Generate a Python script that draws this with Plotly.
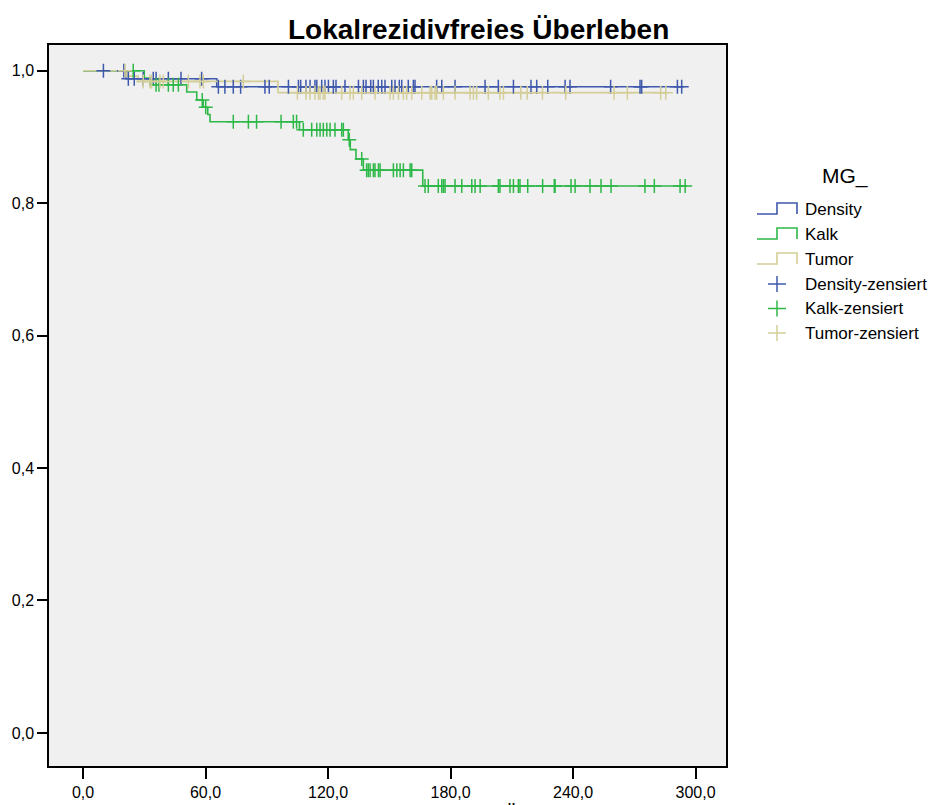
import plotly.graph_objects as go

# Kaplan-Meier data per mammography group (time in months)
density_event_times = [21, 65.5]
density_event_surv = [0.988, 0.976]
density_censored = [10, 20, 22.2, 25.1, 29.5, 34.4, 35.8, 41.8, 48, 58.1, 66.3, 69.5, 73.6,
                    77.2, 89.1, 91.2, 100.6, 105.5, 106.6, 109.2, 111.2, 113.6, 114.5, 116.9,
                    118.5, 120.2, 122.6, 123.9, 128.3, 134.9, 137.3, 138.6, 140.9, 142.2,
                    144.6, 146.3, 147.9, 151.2, 152.8, 154.9, 156.1, 159.3, 161.8, 162.6,
                    173.2, 175.7, 182.2, 196.9, 203.4, 210.8, 219.4, 222.2, 227.6, 236.1,
                    238.5, 258.4, 272.8, 273.6, 291.1, 293.2]

kalk_event_times = [30, 33, 50.8, 55.7, 58.9, 61.1, 62.2, 106, 129.9, 130.9, 133.7, 137.3, 166.4]
kalk_event_surv = [0.989, 0.979, 0.968, 0.956, 0.945, 0.934, 0.923, 0.911, 0.896, 0.881,
                   0.867, 0.850, 0.826]
kalk_censored = [24.6, 35.8, 37.2, 41.8, 44.2, 46.7, 58.4, 60.1, 73.6, 81, 85, 97, 103, 104.6,
                 107.9, 112, 114.5, 116.1, 117.7, 119.4, 121.0, 123.4, 126.7, 127.5, 130.4,
                 136.5, 138.9, 139.7, 140.6, 142.2, 143.0, 144.7, 145.5, 152.0, 153.7, 155.3,
                 156.9, 160.2, 161.0, 167.5, 169.1, 174.0, 175.7, 176.5, 177.3, 182.2, 185.5,
                 190.4, 192.0, 194.5, 203.4, 204.2, 209.1, 210.8, 213.2, 214.0, 217.8, 225.1,
                 230.8, 231.2, 239.0, 241.0, 248.3, 253.7, 258.6, 275.2, 279.8, 292.4, 294.9]

tumor_event_times = [21.5, 27, 95.5]
tumor_event_surv = [0.992, 0.984, 0.967]
tumor_censored = [20.6, 29.5, 32.8, 33.6, 37.7, 39.3, 51.6, 57.3, 58.9, 78.5, 105, 109.2,
                  111.2, 113.6, 115.3, 116.1, 117.7, 118.5, 126.7, 130.8, 132.4, 136.5, 143.0,
                  150.4, 152.0, 154.5, 156.9, 158.5, 161.0, 165.9, 170.0, 170.8, 172.4, 173.2,
                  176.5, 182.2, 189.6, 191.2, 192.8, 198.5, 204.2, 205.9, 214.4, 217.6, 225.0,
                  236.4, 260.1, 266.6, 282.9, 285.4]

group_names = ["Density", "Kalk", "Tumor"]
group_colors = ["#3E58AC", "#2EB848", "#D3CE97"]

x_tickvals = [0, 60, 120, 180, 240, 300]
x_ticktext = ["0,0", "60,0", "120,0", "180,0", "240,0", "300,0"]
y_tickvals = [0, 0.2, 0.4, 0.6, 0.8, 1.0]
y_ticktext = ["0,0", "0,2", "0,4", "0,6", "0,8", "1,0"]

title_text = "Lokalrezidivfreies Überleben"
legend_title = "MG_"

FONT = "Arial, Liberation Sans, sans-serif"
W, H = 934, 805
ML, MR, MT, MB = 49, 208, 45, 39
PW, PH = W - ML - MR, H - MT - MB


def surv_at(t, times, surv):
    s = 1.0
    for et, es in zip(times, surv):
        if et <= t:
            s = es
    return s


def px_to_paper(px, py):
    return (px - ML) / PW, (H - MB - py) / PH


groups = [
    (density_event_times, density_event_surv, density_censored),
    (kalk_event_times, kalk_event_surv, kalk_censored),
    (tumor_event_times, tumor_event_surv, tumor_censored),
]

fig = go.Figure()

# step curves
for (times, surv, cens), name, color in zip(groups, group_names, group_colors):
    end_t = max(max(times), max(cens))
    xs = [0] + list(times) + [end_t]
    ys = [1.0] + list(surv) + [surv[-1]]
    fig.add_trace(go.Scatter(x=xs, y=ys, mode="lines", line=dict(color=color, width=1.6, shape="hv"),
                             name=name, hoverinfo="skip"))

# censored marks
for (times, surv, cens), name, color in zip(groups, group_names, group_colors):
    fig.add_trace(go.Scatter(
        x=cens, y=[surv_at(t, times, surv) for t in cens], mode="markers",
        marker=dict(symbol="cross-thin", size=10, line=dict(color=color, width=1.5)),
        name=name + "-zensiert", hoverinfo="skip"))

shapes = []
annotations = []

# legend drawn beside the plot
lgx, lgy = px_to_paper(845, 176)
annotations.append(dict(x=lgx, y=lgy, xref="paper", yref="paper", text=legend_title,
                        showarrow=False, xanchor="center", yanchor="middle",
                        font=dict(family=FONT, size=21, color="black")))
row_y = [209, 234, 259, 284, 308.5, 333]
for i, (name, color) in enumerate(zip(group_names, group_colors)):
    cy = row_y[i]
    pts = [(757, cy + 5), (777, cy + 5), (777, cy - 6), (797, cy - 6), (797, cy + 5)]
    path = ""
    for j, (a, b) in enumerate(pts):
        xp, yp = px_to_paper(a, b)
        path += ("M" if j == 0 else "L") + f"{xp:.5f},{yp:.5f} "
    shapes.append(dict(type="path", path=path, xref="paper", yref="paper",
                       line=dict(color=color, width=1.6)))
    tx, ty = px_to_paper(803, cy)
    annotations.append(dict(x=tx, y=ty, xref="paper", yref="paper", text=name, showarrow=False,
                            xanchor="left", yanchor="middle",
                            font=dict(family=FONT, size=17, color="black")))
for i, (name, color) in enumerate(zip(group_names, group_colors)):
    cy = row_y[3 + i]
    ax0, ay0 = px_to_paper(768, cy)
    ax1, ay1 = px_to_paper(786, cy)
    shapes.append(dict(type="line", x0=ax0, y0=ay0, x1=ax1, y1=ay1, xref="paper", yref="paper",
                       line=dict(color=color, width=1.5)))
    bx0, by0 = px_to_paper(777, cy - 8)
    bx1, by1 = px_to_paper(777, cy + 8)
    shapes.append(dict(type="line", x0=bx0, y0=by0, x1=bx1, y1=by1, xref="paper", yref="paper",
                       line=dict(color=color, width=1.5)))
    tx, ty = px_to_paper(803, cy)
    annotations.append(dict(x=tx, y=ty, xref="paper", yref="paper", text=name + "-zensiert",
                            showarrow=False, xanchor="left", yanchor="middle",
                            font=dict(family=FONT, size=17, color="black")))

# chart title
ttx, tty = px_to_paper(478, 29)
annotations.append(dict(x=ttx, y=tty, xref="paper", yref="paper", text="<b>" + title_text + "</b>",
                        showarrow=False, xanchor="center", yanchor="middle",
                        font=dict(family=FONT, size=28, color="black")))

# x axis title (runs past the bottom edge of the page)
atx, aty = px_to_paper(503, 800.5)
annotations.append(dict(x=atx, y=aty, xref="paper", yref="paper", text="<b>Überleben</b>",
                        showarrow=False, xanchor="left", yanchor="top",
                        font=dict(family=FONT, size=18, color="black")))

axis_common = dict(showgrid=False, zeroline=False, showline=True, linecolor="black", linewidth=1.5,
                   mirror=True, ticks="outside", tickcolor="black", tickwidth=1.5, automargin=False,
                   tickfont=dict(family=FONT, size=16, color="black"))

fig.update_layout(
    width=W, height=H,
    margin=dict(l=ML, r=MR, t=MT, b=MB, pad=0, autoexpand=False),
    paper_bgcolor="white", plot_bgcolor="#F0F0F0",
    showlegend=False,
    xaxis=dict(range=[-16.65, 314.9], tickvals=x_tickvals, ticktext=x_ticktext, ticklen=11,
               **axis_common),
    yaxis=dict(range=[-0.05, 1.039], tickvals=y_tickvals, ticktext=y_ticktext, ticklen=10,
               **axis_common),
    shapes=shapes,
    annotations=annotations,
)

fig.write_html("out.html")
